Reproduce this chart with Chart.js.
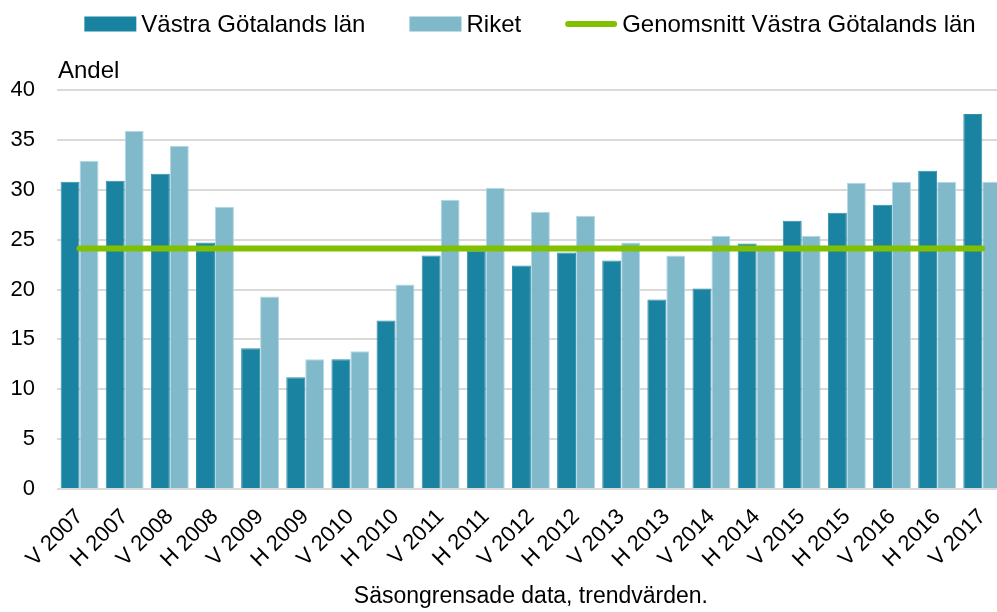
<!DOCTYPE html>
<html>
<head>
<meta charset="utf-8">
<script src="https://cdn.jsdelivr.net/npm/chart.js@4/dist/chart.umd.min.js"></script>
<style>
  html, body { margin: 0; padding: 0; background: #ffffff; overflow: hidden; }
  #wrap { position: relative; width: 1016px; height: 612px; }
</style>
</head>
<body>
<div id="wrap"><canvas id="chart" width="1016" height="612"></canvas></div>
<script>
// Halvår: V = vår, H = höst
const periods = ['V 2007', 'H 2007', 'V 2008', 'H 2008', 'V 2009', 'H 2009', 'V 2010',
  'H 2010', 'V 2011', 'H 2011', 'V 2012', 'H 2012', 'V 2013', 'H 2013', 'V 2014',
  'H 2014', 'V 2015', 'H 2015', 'V 2016', 'H 2016', 'V 2017'];

const vastraGotaland = [30.8, 30.9, 31.6, 24.7, 14.1, 11.2, 13.0, 16.9, 23.4, 23.9, 22.4,
  23.7, 22.9, 19.0, 20.1, 24.6, 26.9, 27.7, 28.5, 31.9, 37.6];

const riket = [32.9, 35.9, 34.4, 28.3, 19.3, 13.0, 13.8, 20.5, 29.0, 30.2, 27.8,
  27.4, 24.7, 23.4, 25.4, 24.1, 25.4, 30.7, 30.8, 30.8, 30.8];

const genomsnittVG = [24.1, 24.1, 24.1, 24.1, 24.1, 24.1, 24.1, 24.1, 24.1, 24.1, 24.1,
  24.1, 24.1, 24.1, 24.1, 24.1, 24.1, 24.1, 24.1, 24.1, 24.1];

const yMin = 0, yMax = 40, yStep = 5;

const FONT = "'Liberation Sans', Arial, Helvetica, sans-serif";
const COL_VG = '#1b83a2';
const COL_RIKET = '#80b9ca';
const COL_AVG = '#80c000';

// Legend drawn across the top, in dataset order: two swatches and a line sample
const topLegend = {
  id: 'topLegend',
  afterDraw(chart) {
    const ctx = chart.ctx;
    const items = [
      { ds: chart.data.datasets[1], kind: 'box' },
      { ds: chart.data.datasets[2], kind: 'box' },
      { ds: chart.data.datasets[0], kind: 'line' }
    ];
    const swW = 52, swH = 15, gapText = 5, gapItem = 44, cy = 24, centerX = 530;
    ctx.save();
    ctx.font = '24px ' + FONT;
    ctx.textBaseline = 'middle';
    ctx.textAlign = 'left';
    const widths = items.map(it => swW + gapText + ctx.measureText(it.ds.label).width);
    const total = widths.reduce((a, b) => a + b, 0) + gapItem * (items.length - 1);
    let x = centerX - total / 2;
    items.forEach((it, i) => {
      if (it.kind === 'box') {
        ctx.fillStyle = it.ds.backgroundColor;
        ctx.fillRect(x, cy - swH / 2, swW, swH);
      } else {
        ctx.strokeStyle = it.ds.borderColor;
        ctx.lineWidth = 6;
        ctx.lineCap = 'round';
        ctx.beginPath();
        ctx.moveTo(x + 3, cy);
        ctx.lineTo(x + swW - 3, cy);
        ctx.stroke();
      }
      ctx.fillStyle = '#000000';
      ctx.fillText(it.ds.label, x + swW + gapText, cy + 1);
      x += widths[i] + gapItem;
    });
    ctx.restore();
  }
};

// Unit caption above the value axis
const unitLabel = {
  id: 'unitLabel',
  afterDraw(chart) {
    const ctx = chart.ctx;
    const area = chart.chartArea;
    ctx.save();
    ctx.font = '24px ' + FONT;
    ctx.fillStyle = '#000000';
    ctx.textAlign = 'left';
    ctx.textBaseline = 'alphabetic';
    ctx.fillText('Andel', area.left + 1, area.top - 12);
    ctx.restore();
  }
};

new Chart(document.getElementById('chart'), {
  data: {
    labels: periods,
    datasets: [
      {
        type: 'line',
        label: 'Genomsnitt Västra Götalands län',
        data: genomsnittVG,
        borderColor: COL_AVG,
        backgroundColor: COL_AVG,
        borderWidth: 6,
        borderCapStyle: 'round',
        pointRadius: 0,
        tension: 0,
        order: 0
      },
      {
        type: 'bar',
        label: 'Västra Götalands län',
        data: vastraGotaland,
        backgroundColor: COL_VG,
        borderColor: '#2f8fab',
        borderWidth: 1,
        barPercentage: 1.0,
        categoryPercentage: 0.84,
        order: 1
      },
      {
        type: 'bar',
        label: 'Riket',
        data: riket,
        backgroundColor: COL_RIKET,
        borderColor: '#b4d8e3',
        borderWidth: 1,
        barPercentage: 1.0,
        categoryPercentage: 0.84,
        order: 1
      }
    ]
  },
  options: {
    responsive: false,
    animation: false,
    devicePixelRatio: 1,
    layout: { padding: { left: 0, right: 3, top: 90, bottom: 0 } },
    plugins: {
      legend: { display: false },
      tooltip: { enabled: false },
      title: { display: false }
    },
    scales: {
      x: {
        offset: true,
        grid: { display: false, drawTicks: false },
        border: { display: false },
        ticks: {
          autoSkip: false,
          minRotation: 45,
          maxRotation: 45,
          padding: 15,
          color: '#000000',
          font: { family: FONT, size: 22 }
        },
        title: {
          display: true,
          text: 'Säsongrensade data, trendvärden.',
          color: '#000000',
          font: { family: FONT, size: 23 },
          padding: { top: 0, bottom: 2 }
        },
        afterFit(scale) { scale.height = 123; }
      },
      y: {
        min: yMin,
        max: yMax,
        ticks: {
          stepSize: yStep,
          padding: 22,
          color: '#000000',
          font: { family: FONT, size: 22 }
        },
        grid: { color: '#d9d9d9', lineWidth: 2, drawTicks: false },
        border: { display: false },
        afterFit(scale) { scale.width = 57; }
      }
    }
  },
  plugins: [topLegend, unitLabel]
});
</script>
</body>
</html>
